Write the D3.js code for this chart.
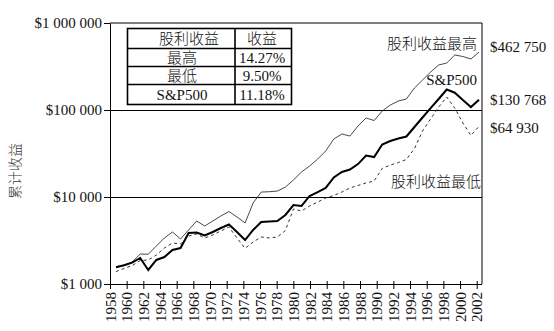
<!DOCTYPE html>
<html><head><meta charset="utf-8">
<script src="https://cdn.jsdelivr.net/npm/d3@7"></script>
<style>
body{margin:0;background:#fff}
svg{display:block}
text{font-family:"Liberation Serif","Noto Sans CJK SC",serif;fill:#111}
text.cjk{font-weight:300}
</style>
</head><body>
<svg id="c" width="554" height="331"></svg>
<script>
// ---- data ----
const years = [1958,1959,1960,1961,1962,1963,1964,1965,1966,1967,1968,1969,1970,1971,1972,1973,1974,1975,1976,1977,1978,1979,1980,1981,1982,1983,1984,1985,1986,1987,1988,1989,1990,1991,1992,1993,1994,1995,1996,1997,1998,1999,2000,2001,2002,2003];
const highYield = [1570,1650,1790,2210,2200,2730,3380,3960,3290,4180,5300,4640,5300,6050,6810,5890,5030,8530,11400,11500,11700,13000,15700,19400,22700,27300,33800,46400,53000,50200,65500,80900,75700,97400,114000,126900,133800,179000,221000,273000,329000,347000,429000,412000,386000,462750];
const sp500 = [1560,1640,1760,1990,1450,1890,2040,2460,2590,3860,3910,3610,3960,4400,4830,3960,3200,4180,5160,5230,5300,6210,8090,7880,10270,11400,12700,16800,19400,20700,23900,30000,28800,40100,44000,47000,49600,63800,82000,105000,133800,172000,158000,130000,108000,130768];
const lowYield = [1390,1510,1630,1860,1890,2150,2590,2960,2880,3560,3760,3380,3660,4070,4520,3380,2570,3040,3470,3380,3470,4120,7280,6900,7880,8760,9740,10400,11400,12700,13560,14500,15300,21300,23300,24900,27000,36100,57400,78800,108000,141000,105000,70900,50900,64930];
const tickYears = [1958,1960,1962,1964,1966,1968,1970,1972,1974,1976,1978,1980,1982,1984,1986,1988,1990,1992,1994,1996,1998,2000,2002];
const yTickValues = [1000,10000,100000,1000000];
const yTickLabels = ["$1 000","$10 000","$100 000","$1 000 000"];
const gridValues = [10000,100000];
const endLabels = ["$462 750","$130 768","$64 930"];
const seriesNames = ["股利收益最高","S&P500","股利收益最低"];
const tableHeader = ["股利收益","收益"];
const tableRows = [["最高","14.27%"],["最低","9.50%"],["S&P500","11.18%"]];
const yTitle = "累计收益";

// ---- layout ----
const svg = d3.select("#c");
const L = 110, R = 482, T = 23, B = 284;
const y = d3.scaleLog().domain([1000,1000000]).range([B,T]);
const xTick = d3.scaleLinear().domain([1958,2002]).range([L,476.7]);
const xData = d3.scaleLinear().domain([1958,2003]).range([116,479]);
const hasCJK = s => /[\u4e00-\u9fff]/.test(s);

// frame & grid
svg.append("line").attr("x1",L).attr("x2",R).attr("y1",T).attr("y2",T).attr("stroke","#000");
svg.append("line").attr("x1",R).attr("x2",R).attr("y1",T).attr("y2",B).attr("stroke","#000");
svg.selectAll("line.grid").data(gridValues).enter().append("line").attr("class","grid")
  .attr("x1",L).attr("x2",R).attr("y1",d=>Math.round(y(d))+0.5).attr("y2",d=>Math.round(y(d))+0.5)
  .attr("stroke","#000").attr("stroke-width",1.2);

// y axis
const yAx = svg.append("g").attr("transform",`translate(${L},0)`)
  .call(d3.axisLeft(y).tickValues(yTickValues).tickSize(6).tickSizeOuter(0).tickPadding(2)
    .tickFormat((d,i)=>yTickLabels[i]));
yAx.selectAll("text").style("font-size","15px");
yAx.selectAll("path,line").attr("stroke","#000");

// x axis
const xAx = svg.append("g").attr("transform",`translate(0,${B})`)
  .call(d3.axisBottom(xTick).tickValues(tickYears).tickSize(5).tickSizeOuter(0).tickFormat(d3.format("d")));
xAx.select("path.domain").attr("d",`M${L},0.5H${R}`);
xAx.selectAll("path,line").attr("stroke","#000");
xAx.selectAll(".tick line").attr("y1",-3);
xAx.selectAll("text").style("font-size","15px")
  .attr("text-anchor","end").attr("transform","rotate(-90)")
  .attr("x",-8).attr("y",0).attr("dy","0.35em");

// lines
const line = d3.line().x((d,i)=>xData(years[i])).y(d=>y(d));
svg.append("path").datum(lowYield).attr("d",line).attr("fill","none")
  .attr("stroke","#333").attr("stroke-width",1).attr("stroke-dasharray","3,3");
svg.append("path").datum(highYield).attr("d",line).attr("fill","none")
  .attr("stroke","#333").attr("stroke-width",0.9);
svg.append("path").datum(sp500).attr("d",line).attr("fill","none")
  .attr("stroke","#000").attr("stroke-width",2);

// end labels
const lasts = [highYield[highYield.length-1], sp500[sp500.length-1], lowYield[lowYield.length-1]];
const endOff = [-5, 0, 1];
svg.selectAll("text.end").data(endLabels).enter().append("text").attr("class","end")
  .attr("x",490).attr("y",(d,i)=>y(lasts[i])+endOff[i]).attr("dy","0.35em")
  .style("font-size","15px").text(d=>d);

// series annotations
const annY = [44, 80, 182];
const annX = [477, 477, 481];
svg.selectAll("text.ann").data(seriesNames).enter().append("text")
  .attr("class",d=>"ann"+(hasCJK(d)?" cjk":""))
  .attr("x",(d,i)=>annX[i]).attr("y",(d,i)=>annY[i]).attr("dy","0.35em")
  .attr("text-anchor","end").style("font-size","15px").text(d=>d);

// y title
svg.append("text").attr("class","cjk").attr("transform","translate(15,171) rotate(-90)")
  .attr("text-anchor","middle").attr("dy","0.35em").style("font-size","14px").style("fill","#333").text(yTitle);

// table
const tx0 = 127.5, tx1 = 235, tx2 = 291.5;
const rowsY = [28.5, 48.5, 66.5, 84.5, 104.5];
const tg = svg.append("g");
tg.append("rect").attr("x",tx0).attr("y",rowsY[0]).attr("width",tx2-tx0).attr("height",rowsY[4]-rowsY[0])
  .attr("fill","#fff").attr("stroke","#000").attr("stroke-width",1.6);
tg.append("line").attr("x1",tx1).attr("x2",tx1).attr("y1",rowsY[0]).attr("y2",rowsY[4]).attr("stroke","#000").attr("stroke-width",1.6);
tg.selectAll("line.row").data(rowsY.slice(1,4)).enter().append("line").attr("class","row")
  .attr("x1",tx0).attr("x2",tx2).attr("y1",d=>d).attr("y2",d=>d).attr("stroke","#000").attr("stroke-width",1.6);
const allRows = [tableHeader].concat(tableRows);
allRows.forEach((r,i)=>{
  const cy = (rowsY[i]+rowsY[i+1])/2;
  tg.append("text").attr("class",hasCJK(r[0])?"cjk":null).attr("x", i===0 ? 189 : 182).attr("y",cy).attr("dy","0.35em")
    .attr("text-anchor","middle").style("font-size","15px").text(r[0]);
  tg.append("text").attr("class",hasCJK(r[1])?"cjk":null).attr("x",262).attr("y",cy).attr("dy","0.35em")
    .attr("text-anchor","middle").style("font-size","15px").text(r[1]);
});
</script></body></html>
